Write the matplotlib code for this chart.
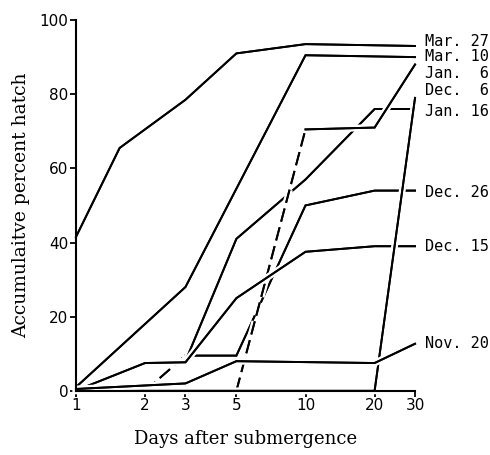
"""
Accumulative percent hatch vs. days after submergence, one line per
submergence date. Lines are drawn with a white halo so that crossing
lines leave small gaps, as in the printed figure.
"""

import matplotlib.pyplot as plt
import matplotlib.patheffects as pe
from matplotlib.ticker import NullLocator

# Data
mar27_x = [1, 1.55, 3, 5, 10, 30]
mar27_y = [41.5, 65.5, 78.5, 91, 93.5, 93]

mar10_x = [1, 3, 10, 30]
mar10_y = [1, 28, 90.5, 90]

dec26_x = [2, 3, 5, 10, 20, 30]
dec26_y = [0, 9.5, 9.5, 50, 54, 54]

jan16_x = [1.12, 2, 3, 5, 10, 20, 30]
jan16_y = [1.3, 7.5, 8, 41, 57, 76, 76]

jan6_x = [5, 10, 20, 30]
jan6_y = [0, 70.5, 71, 88]

dec15_x = [1.12, 2, 3, 5, 10, 20, 30]
dec15_y = [1.3, 7.5, 7.7, 25, 37.5, 39, 39]

dec6_x = [1, 20, 30]
dec6_y = [0, 0, 79]

nov20_x = [1, 3, 5, 20, 30]
nov20_y = [0.5, 2, 8, 7.5, 12.7]

# label text and its height on the right margin
labels = ["Mar. 27", "Mar. 10", "Jan.  6", "Dec.  6",
          "Jan. 16", "Dec. 26", "Dec. 15", "Nov. 20"]
label_y = [94.2, 90.1, 85.6, 81.0, 75.4, 53.5, 39.0, 12.7]

xticks = [1, 2, 3, 5, 10, 20, 30]
yticks = [0, 20, 40, 60, 80, 100]

# draw order matters: later lines cut the earlier ones
series = [
    (mar27_x, mar27_y, 0),
    (mar10_x, mar10_y, 0),
    (dec26_x, dec26_y, 1),   # first segment dashed
    (jan16_x, jan16_y, 0),
    (jan6_x, jan6_y, 1),     # first segment dashed
    (dec15_x, dec15_y, 0),
    (dec6_x, dec6_y, 0),
    (nov20_x, nov20_y, 0),
]

lw = 1.4
halo = [pe.withStroke(linewidth=lw + 3.5, foreground="white"), pe.Normal()]

fig = plt.figure(figsize=(4.9, 4.55), dpi=100)
ax = fig.add_axes([0.155, 0.141, 0.692, 0.815])
ax.set_xscale("log")

for i, (xs, ys, n_dash) in enumerate(series):
    z = 2 + i * 0.01
    if n_dash:
        ax.plot(xs[:n_dash + 1], ys[:n_dash + 1], color="black", lw=lw,
                dashes=(7, 3), path_effects=halo, zorder=z,
                solid_capstyle="butt", clip_on=False)
        xs, ys = xs[n_dash:], ys[n_dash:]
    ax.plot(xs, ys, color="black", lw=lw, path_effects=halo, zorder=z,
            solid_joinstyle="miter", clip_on=False)

for txt, y in zip(labels, label_y):
    ax.annotate(txt, xy=(30, y), xytext=(7, 0), textcoords="offset points",
                va="center", ha="left", family="DejaVu Sans Mono",
                fontsize=11, annotation_clip=False)

ax.set_xlim(1, 30)
ax.set_ylim(0, 100)
ax.set_xticks(xticks)
ax.set_xticklabels([str(t) for t in xticks])
ax.xaxis.set_minor_locator(NullLocator())
ax.set_yticks(yticks)

for s in ["top", "right"]:
    ax.spines[s].set_visible(False)
for s in ["left", "bottom"]:
    ax.spines[s].set_linewidth(1.5)
    ax.spines[s].set_zorder(3)

ax.tick_params(width=1.3, length=4, labelsize=11, pad=1.5)

ax.set_xlabel("Days after submergence", family="DejaVu Serif", fontsize=13,
              labelpad=12)
ax.set_ylabel("Accumulaitve percent hatch", family="DejaVu Serif",
              fontsize=13.5, labelpad=7)

fig.savefig("out.png", dpi=100)
